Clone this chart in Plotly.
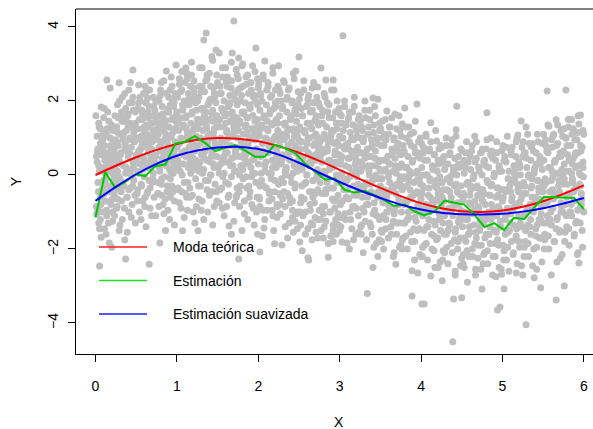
import plotly.graph_objects as go

# ---- data ----
# outer / individually readable points
scatter_points = [
(0.01,-0.85),(0.02,0.35),(0.02,1.05),(0.03,-0.2),(0.03,0.7),(0.04,-1.3),(0.04,1.4),(0.05,-2.46),(0.05,0.1),(0.06,-0.6),(0.06,1.25),(0.07,1.84),(0.07,-1.68),(0.08,0.55),(0.08,-1.0),(0.09,0.95),(0.09,-0.35),(0.10,1.55),(0.10,0.2),(0.11,-1.45),(0.11,0.8),(0.12,-0.7),(0.12,0.45),(0.13,1.15),(0.13,-0.1),(0.14,2.57),(0.14,-1.1),(0.15,0.6),(0.15,1.7),(0.16,-0.45),(0.17,-1.84),(0.17,0.25),(0.18,2.35),(0.18,1.0),(0.19,-0.8),(0.19,0.75),(0.20,-1.95),(0.20,1.35),(0.21,0.05),(0.21,-1.25),(0.22,0.9),(0.23,0.35),(0.23,-0.55),(0.24,1.6),(0.24,-0.2),
(0.25,0.5),(0.26,-0.9),(0.26,1.3),(0.27,0.1),(0.27,1.9),(0.28,-0.4),(0.28,0.8),(0.29,2.49),(0.29,-1.5),(0.30,1.1),(0.30,-0.1),(0.31,0.6),(0.31,1.6),(0.32,-0.7),(0.32,0.3),(0.33,2.1),(0.33,-1.2),(0.34,0.95),(0.34,1.45),(0.35,-0.3),(0.36,-1.76),(0.36,0.7),(0.37,-2.27),(0.37,1.8),(0.38,0.2),(0.38,1.2),(0.39,-0.6),(0.40,0.5),(0.40,1.65),(0.41,-1.0),(0.41,2.3),(0.42,0.05),(0.42,1.0),(0.43,-0.35),(0.43,1.4),(0.44,0.75),(0.45,-0.8),(0.45,1.95),(0.46,2.84),(0.46,0.35),(0.47,1.15),(0.47,-0.15),(0.48,0.9),(0.49,-1.3),(0.49,1.7),(0.50,0.55),
(0.51,-0.5),(0.51,1.25),(0.52,0.1),(0.52,1.8),(0.53,2.43),(0.53,0.65),(0.54,-1.0),(0.54,1.5),(0.55,0.3),(0.55,2.0),(0.56,-0.25),(0.56,1.05),(0.57,0.8),(0.58,-0.7),(0.58,1.65),(0.59,0.45),(0.59,2.2),(0.60,1.3),(0.60,-0.05),(0.61,0.9),(0.62,-1.4),(0.62,1.95),(0.63,0.2),(0.63,1.1),(0.64,2.08),(0.64,-0.45),(0.65,0.6),(0.65,1.55),(0.66,-2.41),(0.66,1.85),(0.67,0.35),(0.67,-0.9),(0.68,1.0),(0.68,2.55),(0.69,0.7),(0.70,-0.2),(0.70,1.4),(0.71,0.05),(0.71,2.1),(0.72,0.95),(0.72,-0.6),(0.73,1.75),(0.74,-1.1),(0.74,0.5),(0.75,1.2),
(0.76,0.3),(0.76,2.0),(0.77,-0.5),(0.77,1.1),(0.78,0.75),(0.78,1.6),(0.79,-1.84),(0.79,0.1),(0.80,2.3),(0.80,1.35),(0.81,-0.25),(0.81,0.9),(0.82,1.85),(0.82,0.45),(0.83,-0.8),(0.83,1.2),(0.84,2.55),(0.84,0.6),(0.85,1.5),(0.85,-0.05),(0.86,1.0),(0.87,2.81),(0.87,0.25),(0.88,1.7),(0.88,-0.45),(0.89,0.8),(0.90,2.1),(0.90,1.3),(0.91,-1.2),(0.91,0.5),(0.92,1.9),(0.93,0.05),(0.93,1.05),(0.94,2.4),(0.94,-0.3),(0.95,0.7),(0.95,1.55),(0.96,0.35),(0.97,1.25),(0.97,-0.7),(0.98,2.2),(0.98,0.9),(0.99,2.97),(0.99,0.15),(1.00,1.7),
(1.01,0.4),(1.01,2.1),(1.02,-0.4),(1.02,1.2),(1.03,0.85),(1.03,2.6),(1.04,0.1),(1.04,1.55),(1.05,-0.9),(1.05,1.0),(1.06,2.3),(1.06,0.6),(1.07,-1.51),(1.07,1.75),(1.08,0.3),(1.08,1.35),(1.09,-0.2),(1.09,2.0),(1.10,0.95),(1.10,2.5),(1.11,2.89),(1.11,0.5),(1.12,1.6),(1.12,-0.6),(1.13,1.15),(1.14,0.2),(1.14,2.2),(1.15,0.75),(1.15,1.9),(1.16,-0.35),(1.17,1.4),(1.17,0.05),(1.18,2.7),(1.18,0.9),(1.19,1.7),(1.20,-1.0),(1.20,0.45),(1.21,1.25),(1.21,2.35),(1.22,0.65),(1.23,-0.1),(1.23,1.95),(1.24,1.05),(1.24,0.3),(1.25,1.5),
(1.26,-1.51),(1.26,0.8),(1.27,2.1),(1.27,0.25),(1.28,1.4),(1.28,2.9),(1.29,-0.3),(1.29,1.0),(1.30,1.8),(1.30,0.55),(1.31,2.4),(1.31,-0.7),(1.32,1.2),(1.33,3.65),(1.33,0.15),(1.34,1.6),(1.34,2.25),(1.35,0.7),(1.35,-0.15),(1.36,3.84),(1.36,1.35),(1.37,2.6),(1.37,0.4),(1.38,1.9),(1.38,-1.0),(1.39,0.95),(1.40,2.75),(1.40,1.5),(1.41,0.0),(1.41,2.05),(1.42,1.1),(1.43,-0.45),(1.43,0.6),(1.44,1.75),(1.44,3.1),(1.45,0.3),(1.45,2.35),(1.46,1.25),(1.47,-0.25),(1.47,0.85),(1.48,3.38),(1.48,1.95),(1.49,0.5),(1.49,1.55),(1.50,2.5),
(1.51,0.2),(1.51,1.45),(1.52,3.3),(1.52,0.75),(1.53,2.2),(1.53,-0.4),(1.54,1.0),(1.55,1.8),(1.55,0.45),(1.56,2.65),(1.56,-0.9),(1.57,1.3),(1.58,0.05),(1.58,2.0),(1.59,0.9),(1.59,1.6),(1.60,2.9),(1.60,-0.2),(1.61,1.15),(1.62,0.6),(1.62,2.4),(1.63,1.85),(1.63,-0.6),(1.64,-1.38),(1.64,0.35),(1.65,1.45),(1.65,2.15),(1.66,0.8),(1.67,-0.05),(1.67,2.55),(1.68,1.05),(1.68,1.7),(1.69,0.25),(1.70,4.16),(1.70,1.3),(1.71,-0.75),(1.71,2.05),(1.72,0.65),(1.72,1.55),(1.73,2.85),(1.73,0.1),(1.74,1.9),(1.74,-0.35),(1.75,1.0),(1.75,2.3),
(1.76,-2.27),(1.76,3.16),(1.77,0.5),(1.77,1.4),(1.78,2.0),(1.78,-0.3),(1.79,0.9),(1.80,2.95),(1.80,1.7),(1.81,0.15),(1.81,2.4),(1.82,1.1),(1.83,-0.7),(1.83,0.6),(1.84,1.95),(1.84,1.3),(1.85,-0.05),(1.85,2.65),(1.86,0.8),(1.87,1.55),(1.87,-1.2),(1.88,0.35),(1.88,2.2),(1.89,1.0),(1.90,-0.45),(1.90,1.8),(1.91,0.65),(1.91,2.5),(1.92,1.25),(1.93,0.05),(1.93,1.6),(1.94,-0.9),(1.94,2.1),(1.95,0.45),(1.95,0.95),(1.96,1.45),(1.96,2.8),(1.97,3.43),(1.97,-0.2),(1.98,1.15),(1.98,0.7),(1.99,1.9),(1.99,-1.6),(2.00,0.3),(2.00,2.35),
(2.01,1.1),(2.01,-0.6),(2.02,-2.08),(2.02,1.75),(2.03,0.5),(2.03,2.2),(2.04,-0.15),(2.04,1.35),(2.05,0.85),(2.06,2.6),(2.06,-0.95),(2.07,-1.43),(2.07,1.55),(2.08,3.08),(2.08,0.25),(2.09,1.0),(2.10,1.9),(2.10,-0.35),(2.11,0.6),(2.12,2.4),(2.12,1.2),(2.13,-0.7),(2.13,0.05),(2.14,1.65),(2.15,0.9),(2.15,2.1),(2.16,-0.1),(2.17,1.35),(2.17,0.4),(2.18,2.75),(2.18,-1.1),(2.19,0.75),(2.19,1.8),(2.20,-0.45),(2.21,1.05),(2.21,2.3),(2.22,0.2),(2.22,1.5),(2.23,-0.8),(2.23,0.65),(2.24,2.0),(2.24,1.2),(2.25,2.95),(2.25,-0.25),
(2.26,0.8),(2.26,1.6),(2.27,-0.5),(2.27,2.2),(2.28,0.3),(2.29,-1.89),(2.29,1.1),(2.30,0.55),(2.30,1.85),(2.31,-0.2),(2.32,2.5),(2.32,0.95),(2.33,-0.85),(2.33,1.4),(2.34,0.15),(2.35,1.7),(2.35,2.05),(2.36,-0.5),(2.37,0.65),(2.37,1.25),(2.38,-1.3),(2.38,2.35),(2.39,0.4),(2.40,1.55),(2.40,-0.05),(2.41,0.9),(2.42,2.0),(2.42,-0.7),(2.43,1.2),(2.44,0.25),(2.44,2.6),(2.45,1.75),(2.45,-0.35),(2.46,2.81),(2.46,0.75),(2.47,1.45),(2.47,-1.05),(2.48,0.1),(2.48,1.05),(2.49,1.9),(2.50,3.19),(2.50,0.5),(2.20,-1.86),(2.43,-1.55),
(2.51,-1.81),(2.51,1.3),(2.52,0.2),(2.52,2.2),(2.53,-0.6),(2.53,0.9),(2.54,-2.05),(2.54,1.6),(2.55,0.45),(2.56,2.55),(2.56,-0.25),(2.57,1.15),(2.58,-1.0),(2.58,0.7),(2.59,1.85),(2.60,0.0),(2.60,1.4),(2.61,-2.24),(2.61,2.05),(2.62,0.55),(2.63,-0.45),(2.63,1.0),(2.64,1.7),(2.65,-1.3),(2.65,0.3),(2.66,2.35),(2.66,1.25),(2.67,-0.15),(2.68,0.8),(2.68,1.95),(2.69,-0.75),(2.70,0.45),(2.70,1.5),(2.71,-1.55),(2.71,1.1),(2.72,0.1),(2.72,2.1),(2.73,2.38),(2.73,-0.4),(2.74,0.65),(2.74,1.35),(2.75,-0.95),(2.62,-2.3),(2.66,-1.75),
(2.76,0.9),(2.76,-0.2),(2.77,2.89),(2.77,1.4),(2.78,0.35),(2.79,-0.85),(2.79,1.75),(2.80,0.6),(2.81,-1.4),(2.81,1.1),(2.82,2.1),(2.82,0.05),(2.83,2.57),(2.83,-0.5),(2.84,1.3),(2.85,0.75),(2.85,1.95),(2.86,-2.22),(2.86,-0.1),(2.87,1.55),(2.88,0.4),(2.88,-1.0),(2.89,1.0),(2.90,2.3),(2.90,-0.35),(2.91,0.2),(2.92,2.57),(2.92,-1.8),(2.93,1.2),(2.93,-0.7),(2.94,0.55),(2.95,1.7),(2.95,-1.2),(2.96,0.0),(2.97,0.9),(2.97,2.0),(2.98,-0.55),(2.98,1.4),(2.99,0.3),(3.00,-1.5),(3.00,1.05),(2.80,-1.7),(2.96,-1.6),
(3.01,0.4),(3.01,-0.8),(3.02,1.6),(3.03,-1.81),(3.03,0.05),(3.04,3.76),(3.04,1.0),(3.05,-0.4),(3.06,0.7),(3.06,1.85),(3.07,-1.2),(3.07,0.25),(3.08,1.35),(3.09,-1.84),(3.09,-0.15),(3.10,0.85),(3.11,-0.65),(3.11,1.55),(3.12,0.45),(3.13,-1.0),(3.13,1.15),(3.14,0.0),(3.15,-1.45),(3.15,0.6),(3.16,1.7),(3.17,-0.3),(3.17,0.95),(3.18,1.86),(3.18,-0.85),(3.19,0.3),(3.20,1.3),(3.20,-1.6),(3.21,-0.05),(3.22,0.75),(3.22,-0.55),(3.23,1.5),(3.23,-1.1),(3.24,0.15),(3.25,1.0),(3.25,-0.3),(3.12,-2.0),
(3.26,0.6),(3.26,-1.4),(3.27,1.3),(3.28,-0.6),(3.28,0.2),(3.29,-2.1),(3.29,0.9),(3.30,-1.0),(3.31,2.0),(3.31,0.45),(3.32,-0.2),(3.32,1.55),(3.33,-1.75),(3.34,-3.2),(3.34,0.7),(3.35,-0.8),(3.35,1.1),(3.36,0.1),(3.37,-1.3),(3.37,1.75),(3.38,0.5),(3.39,-0.45),(3.39,0.95),(3.40,-1.6),(3.40,0.25),(3.41,2.08),(3.41,-2.5),(3.42,1.35),(3.42,-0.1),(3.43,-0.95),(3.44,0.65),(3.44,1.6),(3.45,-1.85),(3.45,0.0),(3.46,-0.55),(3.46,1.0),(3.47,2.05),(3.47,-2.2),(3.48,0.35),(3.49,-1.2),(3.49,1.2),(3.50,-0.3),
(3.51,0.8),(3.51,-1.5),(3.52,-0.1),(3.52,1.45),(3.53,-0.75),(3.54,0.4),(3.54,-2.0),(3.55,1.1),(3.55,-0.4),(3.56,0.15),(3.57,-1.2),(3.57,0.95),(3.58,1.73),(3.58,-0.6),(3.59,0.5),(3.60,-1.7),(3.60,-0.05),(3.61,1.3),(3.62,-0.9),(3.62,0.3),(3.63,-1.4),(3.64,0.7),(3.64,1.55),(3.65,-0.3),(3.66,-2.2),(3.66,0.1),(3.67,1.0),(3.67,-1.05),(3.68,0.45),(3.69,-2.41),(3.69,-0.5),(3.70,1.25),(3.70,-1.6),(3.71,0.2),(3.72,-0.8),(3.72,0.85),(3.73,-1.3),(3.73,1.6),(3.74,-0.15),(3.75,0.55),(3.75,-1.9),
(3.76,0.3),(3.76,-1.0),(3.77,1.38),(3.77,-0.4),(3.78,-1.7),(3.79,0.65),(3.79,-0.05),(3.80,1.81),(3.80,-1.3),(3.81,0.2),(3.82,-0.75),(3.82,1.0),(3.83,-2.0),(3.83,-0.3),(3.84,0.5),(3.85,-1.15),(3.85,1.3),(3.86,0.0),(3.87,-0.6),(3.87,-1.55),(3.88,0.8),(3.89,-2.59),(3.89,-3.27),(3.89,0.35),(3.90,-0.95),(3.91,1.15),(3.91,-0.2),(3.92,-1.8),(3.93,0.6),(3.93,-0.5),(3.94,-1.25),(3.95,1.92),(3.95,0.1),(3.96,-2.65),(3.96,-0.8),(3.97,0.9),(3.98,-1.45),(3.98,-0.1),(3.99,0.45),(4.00,-2.2),(4.00,-0.65),
(4.01,-3.49),(4.01,0.2),(4.02,-1.1),(4.03,0.75),(4.03,-0.35),(4.04,-3.49),(4.04,-1.9),(4.05,0.0),(4.06,-0.8),(4.06,1.05),(4.07,-1.4),(4.08,0.4),(4.08,-2.3),(4.09,-0.55),(4.10,-1.0),(4.10,0.65),(4.11,-0.15),(4.12,1.41),(4.12,-2.73),(4.13,-1.6),(4.14,0.25),(4.14,-0.7),(4.15,-1.25),(4.16,0.55),(4.16,-2.05),(4.17,-0.3),(4.18,-0.95),(4.19,0.92),(4.19,-1.75),(4.20,0.1),(4.21,-0.5),(4.21,-2.5),(4.22,0.7),(4.23,-1.2),(4.23,-0.05),(4.24,-1.5),(4.25,0.35),(4.25,-0.85),
(4.26,-2.86),(4.26,-0.2),(4.27,0.45),(4.27,-1.3),(4.28,-0.7),(4.29,-2.1),(4.29,0.15),(4.30,-1.0),(4.31,0.8),(4.31,-1.6),(4.32,-0.4),(4.33,0.3),(4.33,-2.4),(4.34,-0.9),(4.35,-1.35),(4.35,0.55),(4.36,-0.05),(4.37,-1.85),(4.37,-0.6),(4.38,0.95),(4.39,-4.51),(4.39,-1.1),(4.40,-3.35),(4.40,0.2),(4.41,-0.3),(4.42,-1.55),(4.42,-2.7),(4.43,1.22),(4.43,-0.8),(4.44,1.86),(4.44,0.0),(4.45,-2.0),(4.46,-1.25),(4.46,0.5),(4.47,-0.5),(4.48,-1.7),(4.48,0.25),(4.49,-0.95),(4.50,-3.32),(4.50,-2.25),
(4.51,0.3),(4.51,-1.4),(4.52,-0.6),(4.53,-2.5),(4.53,0.05),(4.54,-1.0),(4.55,0.6),(4.55,-1.8),(4.56,-0.25),(4.57,-2.9),(4.57,-1.2),(4.58,0.35),(4.59,-0.75),(4.59,-2.2),(4.60,-1.55),(4.61,0.15),(4.61,-0.4),(4.62,-1.05),(4.63,0.8),(4.63,-2.0),(4.64,-0.1),(4.65,-1.35),(4.66,1.05),(4.66,-0.7),(4.67,-2.55),(4.68,0.45),(4.68,-1.7),(4.69,-0.3),(4.70,-0.95),(4.70,-2.25),(4.71,0.2),(4.72,-1.5),(4.72,-0.55),(4.73,0.6),(4.74,-1.15),(4.74,-1.9),(4.75,-3.08),(4.75,0.0),
(4.76,-0.4),(4.77,-1.3),(4.77,0.35),(4.78,-2.1),(4.79,-0.8),(4.80,0.7),(4.80,-1.6),(4.81,1.68),(4.81,-0.15),(4.82,-2.4),(4.83,-1.0),(4.83,0.2),(4.84,-0.55),(4.85,-1.85),(4.86,1.0),(4.86,-1.2),(4.87,-0.25),(4.88,-2.7),(4.88,0.45),(4.89,-0.9),(4.90,-1.5),(4.90,0.05),(4.91,-2.2),(4.92,-0.6),(4.93,0.6),(4.93,-1.1),(4.94,-3.65),(4.94,-1.75),(4.95,-0.35),(4.96,0.25),(4.96,-2.5),(4.97,-3.57),(4.97,-0.95),(4.98,-1.4),(4.99,-2.68),(4.99,0.1),(5.00,-0.7),
(5.01,-1.9),(5.02,-3.08),(5.02,0.4),(5.03,-1.2),(5.04,-0.45),(5.05,-2.3),(5.05,0.75),(5.06,-0.9),(5.07,-1.55),(5.08,0.1),(5.08,-2.6),(5.09,-0.3),(5.10,-1.05),(5.11,0.55),(5.11,-1.8),(5.12,-0.6),(5.13,-2.15),(5.14,0.25),(5.14,-1.35),(5.15,-0.1),(5.16,-0.8),(5.17,0.9),(5.17,-1.65),(5.18,-2.4),(5.19,-0.4),(5.20,0.35),(5.20,-1.1),(5.21,-1.95),(5.22,0.0),(5.23,1.46),(5.23,-0.65),(5.24,-1.4),(5.25,0.5),(5.25,-2.7),
(5.26,-0.2),(5.26,-1.1),(5.27,0.6),(5.28,-1.8),(5.29,1.3),(5.29,-4.05),(5.29,-0.5),(5.30,0.2),(5.31,-1.35),(5.32,-2.2),(5.32,-0.05),(5.33,0.85),(5.34,-0.8),(5.35,-1.6),(5.35,0.4),(5.36,-0.3),(5.37,-2.45),(5.38,-1.0),(5.38,0.65),(5.39,-2.78),(5.39,0.05),(5.40,-0.6),(5.41,-1.45),(5.42,0.3),(5.42,-1.95),(5.43,-0.15),(5.44,0.9),(5.45,-1.2),(5.45,-0.45),(5.46,0.5),(5.47,-3.05),(5.47,-1.7),(5.48,-0.85),(5.49,0.15),(5.50,-1.3),(5.19,1.08),
(5.51,0.4),(5.51,-0.7),(5.52,-1.6),(5.53,0.95),(5.54,-0.2),(5.55,2.27),(5.55,-1.1),(5.56,0.6),(5.57,1.32),(5.57,-2.0),(5.58,-0.45),(5.59,0.2),(5.60,-2.7),(5.60,-1.35),(5.61,0.75),(5.62,-0.05),(5.62,-0.9),(5.63,1.1),(5.64,-1.8),(5.64,0.35),(5.65,-0.55),(5.66,1.49),(5.66,-3.38),(5.67,-1.2),(5.67,0.05),(5.68,0.85),(5.69,-0.3),(5.70,-1.55),(5.70,0.5),(5.71,-2.25),(5.72,-0.75),(5.72,1.2),(5.73,0.15),(5.74,-1.0),(5.75,0.65),(5.75,-0.2),
(5.76,-3.0),(5.76,0.3),(5.77,-0.8),(5.78,2.3),(5.78,1.0),(5.79,-1.4),(5.80,0.55),(5.80,-0.25),(5.81,1.3),(5.82,-1.9),(5.82,0.1),(5.83,-0.55),(5.84,0.8),(5.85,-1.1),(5.85,1.5),(5.86,-0.1),(5.87,0.45),(5.88,-1.65),(5.88,-0.7),(5.89,0.95),(5.90,0.2),(5.90,-1.3),(5.91,-0.35),(5.92,1.15),(5.93,-2.1),(5.93,0.6),(5.94,1.38),(5.94,-2.38),(5.95,-0.9),(5.96,1.62),(5.96,0.0),(5.97,-0.5),(5.98,0.75),(5.98,-1.5),(5.99,0.35),(6.00,-1.0),(6.00,1.1),
]

# points of the dense core of the cloud (estimated)
scatter_points_core = [
(0.015,-1.05),(0.135,-0.95),(0.065,-0.8),(0.205,-0.65),(0.035,-0.45),(0.175,-0.3),(0.095,-0.15),(0.225,0.0),(0.055,0.15),(0.155,0.3),(0.115,0.4),(0.245,0.55),(0.025,0.65),(0.185,0.8),(0.075,0.9),(0.145,1.05),(0.215,1.2),(0.045,1.3),(0.165,1.45),(0.105,-0.5),(0.235,-1.1),(0.085,0.7),(0.195,0.1),(0.005,1.6),(0.125,-0.25),(0.24,0.95),(0.06,-1.2),(0.17,1.25),(0.11,1.8),(0.21,-0.4),
(0.265,-0.85),(0.385,-0.6),(0.315,-0.45),(0.455,-0.3),(0.285,-0.05),(0.425,0.05),(0.345,0.25),(0.475,0.4),(0.305,0.55),(0.405,0.7),(0.365,0.85),(0.495,1.0),(0.275,1.15),(0.435,1.3),(0.325,1.45),(0.395,1.6),(0.465,1.75),(0.295,2.0),(0.415,1.95),(0.355,-0.9),(0.485,-0.55),(0.335,1.05),(0.445,0.15),(0.255,0.35),(0.375,1.5),(0.48,1.25),(0.31,-0.25),(0.42,0.6),(0.36,2.2),(0.46,-0.1),
(0.515,-0.7),(0.635,-0.5),(0.565,-0.3),(0.705,-0.1),(0.535,0.05),(0.675,0.2),(0.595,0.35),(0.725,0.55),(0.555,0.7),(0.655,0.85),(0.615,1.0),(0.745,1.1),(0.525,1.25),(0.685,1.4),(0.575,1.5),(0.645,1.7),(0.715,1.85),(0.545,2.1),(0.665,2.3),(0.605,-0.85),(0.735,0.3),(0.585,1.6),(0.695,0.9),(0.505,0.45),(0.625,1.35),(0.74,2.0),(0.56,0.95),(0.67,-0.35),(0.61,2.4),(0.71,1.2),
(0.765,-0.5),(0.885,-0.3),(0.815,-0.1),(0.955,0.05),(0.785,0.2),(0.925,0.4),(0.845,0.55),(0.975,0.7),(0.805,0.85),(0.905,1.0),(0.865,1.1),(0.995,1.25),(0.775,1.4),(0.935,1.5),(0.825,1.65),(0.895,1.8),(0.965,1.95),(0.795,2.15),(0.915,2.3),(0.855,-0.65),(0.985,0.5),(0.835,1.2),(0.945,2.05),(0.755,0.95),(0.875,0.65),(0.99,1.6),(0.81,2.5),(0.92,-0.1),(0.86,1.45),(0.96,0.25),
(1.015,-0.35),(1.135,-0.2),(1.065,0.0),(1.205,0.15),(1.035,0.3),(1.175,0.5),(1.095,0.65),(1.225,0.8),(1.055,0.95),(1.155,1.1),(1.115,1.25),(1.245,1.35),(1.025,1.5),(1.185,1.65),(1.075,1.8),(1.145,1.95),(1.215,2.1),(1.045,2.25),(1.165,2.4),(1.105,-0.5),(1.235,0.4),(1.085,1.3),(1.195,2.0),(1.005,0.75),(1.125,2.6),(1.24,1.0),(1.06,2.8),(1.17,0.2),(1.11,1.55),(1.21,2.55),
(1.265,-0.3),(1.385,-0.15),(1.315,0.05),(1.455,0.2),(1.285,0.35),(1.425,0.5),(1.345,0.65),(1.475,0.8),(1.305,0.95),(1.405,1.1),(1.365,1.25),(1.495,1.35),(1.275,1.5),(1.435,1.65),(1.325,1.8),(1.395,1.95),(1.465,2.1),(1.295,2.25),(1.415,2.4),(1.355,2.55),(1.485,-0.45),(1.335,0.45),(1.445,1.45),(1.255,2.0),(1.375,0.85),(1.49,2.7),(1.31,2.9),(1.42,0.0),(1.36,1.7),(1.46,1.0),
(1.515,-0.4),(1.635,-0.25),(1.565,-0.05),(1.705,0.1),(1.535,0.3),(1.675,0.45),(1.595,0.6),(1.725,0.75),(1.555,0.9),(1.655,1.05),(1.615,1.2),(1.745,1.35),(1.525,1.5),(1.685,1.6),(1.575,1.75),(1.645,1.9),(1.715,2.05),(1.545,2.2),(1.665,2.35),(1.605,2.5),(1.735,-0.55),(1.585,0.35),(1.695,1.4),(1.505,2.45),(1.625,0.8),(1.74,2.7),(1.56,2.9),(1.67,3.05),(1.61,1.65),(1.71,0.5),
(1.765,-0.45),(1.885,-0.3),(1.815,-0.1),(1.955,0.05),(1.785,0.25),(1.925,0.4),(1.845,0.55),(1.975,0.7),(1.805,0.85),(1.905,1.0),(1.865,1.15),(1.995,1.3),(1.775,1.45),(1.935,1.6),(1.825,1.7),(1.895,1.85),(1.965,2.0),(1.795,2.15),(1.915,2.3),(1.855,2.45),(1.985,-0.6),(1.835,0.3),(1.945,1.25),(1.755,2.6),(1.875,0.75),(1.99,2.6),(1.81,3.0),(1.92,-0.05),(1.86,1.55),(1.96,0.95),
(2.015,-0.65),(2.135,-0.5),(2.065,-0.3),(2.205,-0.15),(2.035,0.05),(2.175,0.2),(2.095,0.35),(2.225,0.5),(2.055,0.65),(2.155,0.8),(2.115,0.95),(2.245,1.1),(2.025,1.25),(2.185,1.4),(2.075,1.55),(2.145,1.7),(2.215,1.85),(2.045,2.0),(2.165,2.15),(2.105,2.3),(2.235,-0.85),(2.085,0.1),(2.195,1.0),(2.005,2.45),(2.125,0.6),(2.24,2.4),(2.06,2.7),(2.17,-0.95),(2.11,1.45),(2.21,0.3),
(2.265,-0.8),(2.385,-0.6),(2.315,-0.45),(2.455,-0.25),(2.285,-0.1),(2.425,0.05),(2.345,0.2),(2.475,0.35),(2.305,0.5),(2.405,0.65),(2.365,0.8),(2.495,0.95),(2.275,1.1),(2.435,1.25),(2.325,1.35),(2.395,1.5),(2.465,1.65),(2.295,1.8),(2.415,1.95),(2.355,2.1),(2.485,-1.0),(2.335,0.0),(2.445,1.05),(2.255,2.3),(2.375,0.45),(2.49,2.25),(2.31,2.55),(2.42,-1.15),(2.36,1.2),(2.46,0.6),
(2.515,-1.0),(2.635,-0.8),(2.565,-0.65),(2.705,-0.5),(2.535,-0.3),(2.675,-0.15),(2.595,0.0),(2.725,0.15),(2.555,0.3),(2.655,0.45),(2.615,0.6),(2.745,0.75),(2.525,0.9),(2.685,1.05),(2.575,1.15),(2.645,1.3),(2.715,1.45),(2.545,1.6),(2.665,1.75),(2.605,1.9),(2.735,-1.2),(2.585,-0.2),(2.695,0.85),(2.505,2.05),(2.625,0.25),(2.74,1.95),(2.56,2.3),(2.67,-1.35),(2.61,1.0),(2.71,0.4),
(2.765,-1.2),(2.885,-1.0),(2.815,-0.85),(2.955,-0.7),(2.785,-0.5),(2.925,-0.35),(2.845,-0.2),(2.975,-0.05),(2.805,0.1),(2.905,0.25),(2.865,0.4),(2.995,0.55),(2.775,0.7),(2.935,0.85),(2.825,1.0),(2.895,1.1),(2.965,1.25),(2.795,1.4),(2.915,1.55),(2.855,1.7),(2.985,-1.35),(2.835,-0.4),(2.945,0.65),(2.755,1.85),(2.875,0.15),(2.99,1.8),(2.81,2.2),(2.92,-1.5),(2.86,0.9),(2.96,0.3),
(3.015,-1.4),(3.135,-1.2),(3.065,-1.05),(3.205,-0.9),(3.035,-0.7),(3.175,-0.55),(3.095,-0.4),(3.225,-0.25),(3.055,-0.1),(3.155,0.05),(3.115,0.2),(3.245,0.35),(3.025,0.5),(3.185,0.65),(3.075,0.8),(3.145,0.95),(3.215,1.05),(3.045,1.2),(3.165,1.35),(3.105,1.5),(3.235,-1.55),(3.085,-0.6),(3.195,0.45),(3.005,1.65),(3.125,-0.05),(3.24,1.6),(3.06,2.0),(3.17,-1.75),(3.11,0.7),(3.21,0.1),
(3.265,-1.6),(3.385,-1.4),(3.315,-1.25),(3.455,-1.1),(3.285,-0.9),(3.425,-0.75),(3.345,-0.6),(3.475,-0.45),(3.305,-0.3),(3.405,-0.15),(3.365,0.0),(3.495,0.15),(3.275,0.3),(3.435,0.45),(3.325,0.6),(3.395,0.75),(3.465,0.85),(3.295,1.0),(3.415,1.15),(3.355,1.3),(3.485,-1.75),(3.335,-0.8),(3.445,0.25),(3.255,1.45),(3.375,-0.25),(3.49,1.4),(3.31,1.75),(3.42,-1.95),(3.36,0.5),(3.46,-0.1),
(3.515,-1.8),(3.635,-1.6),(3.565,-1.45),(3.705,-1.3),(3.535,-1.1),(3.675,-0.95),(3.595,-0.8),(3.725,-0.65),(3.555,-0.5),(3.655,-0.35),(3.615,-0.2),(3.745,-0.05),(3.525,0.1),(3.685,0.25),(3.575,0.4),(3.645,0.55),(3.715,0.65),(3.545,0.8),(3.665,0.95),(3.605,1.1),(3.735,-1.95),(3.585,-1.0),(3.695,0.05),(3.505,1.25),(3.625,-0.45),(3.74,1.2),(3.56,1.5),(3.67,-2.1),(3.61,0.3),(3.71,-0.3),
(3.765,-2.0),(3.885,-1.8),(3.815,-1.65),(3.955,-1.5),(3.785,-1.3),(3.925,-1.15),(3.845,-1.0),(3.975,-0.85),(3.805,-0.7),(3.905,-0.55),(3.865,-0.4),(3.995,-0.25),(3.775,-0.1),(3.935,0.05),(3.825,0.2),(3.895,0.35),(3.965,0.5),(3.795,0.6),(3.915,0.75),(3.855,0.9),(3.985,-2.15),(3.835,-1.2),(3.945,-0.15),(3.755,1.05),(3.875,-0.65),(3.99,1.0),(3.81,1.3),(3.92,-2.3),(3.86,0.1),(3.96,-0.5),
(4.015,-2.2),(4.135,-2.0),(4.065,-1.85),(4.205,-1.7),(4.035,-1.5),(4.175,-1.35),(4.095,-1.2),(4.225,-1.05),(4.055,-0.9),(4.155,-0.75),(4.115,-0.6),(4.245,-0.45),(4.025,-0.3),(4.185,-0.15),(4.075,0.0),(4.145,0.15),(4.215,0.3),(4.045,0.4),(4.165,0.55),(4.105,0.7),(4.235,-2.35),(4.085,-1.4),(4.195,-0.35),(4.005,0.85),(4.125,-0.85),(4.24,0.8),(4.06,1.1),(4.17,-2.5),(4.11,-0.1),(4.21,-0.7),
(4.265,-2.3),(4.385,-2.1),(4.315,-1.95),(4.455,-1.8),(4.285,-1.6),(4.425,-1.45),(4.345,-1.3),(4.475,-1.15),(4.305,-1.0),(4.405,-0.85),(4.365,-0.7),(4.495,-0.55),(4.275,-0.4),(4.435,-0.25),(4.325,-0.1),(4.395,0.05),(4.465,0.2),(4.295,0.3),(4.415,0.45),(4.355,0.6),(4.485,-2.45),(4.335,-1.5),(4.445,-0.45),(4.255,0.75),(4.375,-0.95),(4.49,0.7),(4.31,1.0),(4.42,-2.6),(4.36,-0.2),(4.46,-0.8),
(4.515,-2.4),(4.635,-2.2),(4.565,-2.05),(4.705,-1.9),(4.535,-1.7),(4.675,-1.55),(4.595,-1.4),(4.725,-1.25),(4.555,-1.1),(4.655,-0.95),(4.615,-0.8),(4.745,-0.65),(4.525,-0.5),(4.685,-0.35),(4.575,-0.2),(4.645,-0.05),(4.715,0.1),(4.545,0.2),(4.665,0.35),(4.605,0.5),(4.735,-2.55),(4.585,-1.6),(4.695,-0.55),(4.505,0.65),(4.625,-1.05),(4.74,0.6),(4.56,0.9),(4.67,-2.7),(4.61,-0.3),(4.71,-0.9),
(4.765,-2.4),(4.885,-2.2),(4.815,-2.05),(4.955,-1.9),(4.785,-1.7),(4.925,-1.55),(4.845,-1.4),(4.975,-1.25),(4.805,-1.1),(4.905,-0.95),(4.865,-0.8),(4.995,-0.65),(4.775,-0.5),(4.935,-0.35),(4.825,-0.2),(4.895,-0.05),(4.965,0.1),(4.795,0.25),(4.915,0.4),(4.855,0.55),(4.985,-2.55),(4.835,-1.6),(4.945,-0.55),(4.755,0.7),(4.875,-1.05),(4.99,0.65),(4.81,0.95),(4.92,-2.75),(4.86,-0.3),(4.96,-0.9),
(5.015,-2.3),(5.135,-2.1),(5.065,-1.95),(5.205,-1.8),(5.035,-1.6),(5.175,-1.45),(5.095,-1.3),(5.225,-1.15),(5.055,-1.0),(5.155,-0.85),(5.115,-0.7),(5.245,-0.55),(5.025,-0.4),(5.185,-0.25),(5.075,-0.1),(5.145,0.05),(5.215,0.2),(5.045,0.35),(5.165,0.5),(5.105,0.65),(5.235,-2.45),(5.085,-1.5),(5.195,-0.45),(5.005,0.8),(5.125,-0.95),(5.24,0.75),(5.06,1.05),(5.17,-2.65),(5.11,-0.2),(5.21,-0.8),
(5.265,-2.2),(5.385,-2.0),(5.315,-1.85),(5.455,-1.7),(5.285,-1.5),(5.425,-1.35),(5.345,-1.2),(5.475,-1.05),(5.305,-0.9),(5.405,-0.75),(5.365,-0.6),(5.495,-0.45),(5.275,-0.3),(5.435,-0.15),(5.325,0.0),(5.395,0.15),(5.465,0.3),(5.295,0.45),(5.415,0.6),(5.355,0.75),(5.485,-2.35),(5.335,-1.4),(5.445,-0.35),(5.255,0.9),(5.375,-0.85),(5.49,0.85),(5.31,1.1),(5.42,-2.55),(5.36,-0.1),(5.46,-0.7),
(5.515,-2.0),(5.635,-1.8),(5.565,-1.65),(5.705,-1.5),(5.535,-1.3),(5.675,-1.15),(5.595,-1.0),(5.725,-0.85),(5.555,-0.7),(5.655,-0.55),(5.615,-0.4),(5.745,-0.25),(5.525,-0.1),(5.685,0.05),(5.575,0.2),(5.645,0.35),(5.715,0.5),(5.545,0.65),(5.665,0.8),(5.605,0.95),(5.735,-2.15),(5.585,-1.2),(5.695,-0.15),(5.505,1.1),(5.625,-0.65),(5.74,1.05),(5.56,1.35),(5.67,-2.35),(5.61,0.1),(5.71,-0.5),
(5.765,-1.8),(5.885,-1.6),(5.815,-1.45),(5.955,-1.3),(5.785,-1.1),(5.925,-0.95),(5.845,-0.8),(5.975,-0.65),(5.805,-0.5),(5.905,-0.35),(5.865,-0.2),(5.995,-0.05),(5.775,0.1),(5.935,0.25),(5.825,0.4),(5.895,0.55),(5.965,0.65),(5.795,0.8),(5.915,0.95),(5.855,1.1),(5.985,-1.95),(5.835,-1.0),(5.945,0.05),(5.755,1.25),(5.875,-0.45),(5.99,1.2),(5.81,1.5),(5.92,-2.15),(5.86,0.3),(5.96,-0.3),
]

# extra points where the reference cloud is solid grey (estimated)
scatter_points_fill = [
(0.03,-0.95),(0.19,-0.7),(0.08,-0.55),(0.22,-0.15),(0.12,0.05),(0.04,0.25),(0.17,0.45),(0.10,0.6),(0.23,0.7),(0.06,0.85),(0.14,1.25),(0.20,0.55),(0.01,0.5),(0.16,-1.3),(0.09,1.1),(0.24,0.25),
(0.27,-0.65),(0.41,-0.4),(0.33,-0.2),(0.47,0.25),(0.29,0.4),(0.38,0.65),(0.44,0.95),(0.26,0.9),(0.35,1.15),(0.49,1.4),(0.32,1.7),(0.40,1.35),(0.46,2.1),(0.28,1.55),(0.37,0.05),(0.43,2.5),
(0.52,-0.4),(0.66,-0.15),(0.58,0.15),(0.72,0.35),(0.54,0.55),(0.63,0.75),(0.70,1.05),(0.51,1.0),(0.60,1.15),(0.74,1.45),(0.57,1.75),(0.65,1.3),(0.71,1.6),(0.53,1.95),(0.62,2.25),(0.68,0.45),
(0.77,-0.2),(0.91,0.15),(0.83,0.35),(0.97,0.55),(0.79,0.65),(0.88,0.9),(0.95,1.15),(0.76,1.25),(0.85,1.35),(0.99,1.45),(0.82,1.55),(0.90,1.7),(0.96,1.85),(0.78,2.0),(0.87,2.2),(0.93,2.65),
(1.02,0.15),(1.16,0.35),(1.08,0.55),(1.22,0.7),(1.04,0.9),(1.13,1.05),(1.20,1.2),(1.01,1.4),(1.10,1.55),(1.24,1.75),(1.07,1.9),(1.15,2.05),(1.21,2.25),(1.03,2.45),(1.12,2.75),(1.18,3.05),
(1.27,0.1),(1.41,0.35),(1.33,0.6),(1.47,0.7),(1.29,0.85),(1.38,1.05),(1.45,1.15),(1.26,1.25),(1.35,1.45),(1.49,1.6),(1.32,1.75),(1.40,2.0),(1.46,2.2),(1.28,2.4),(1.37,2.7),(1.43,3.2),
(1.52,0.05),(1.66,0.25),(1.58,0.5),(1.72,0.6),(1.54,0.85),(1.63,1.0),(1.70,1.15),(1.51,1.3),(1.60,1.4),(1.74,1.55),(1.57,1.7),(1.65,1.95),(1.71,2.2),(1.53,2.4),(1.62,2.65),(1.68,3.3),
(1.77,0.0),(1.91,0.2),(1.83,0.45),(1.97,0.55),(1.79,0.75),(1.88,0.9),(1.95,1.1),(1.76,1.2),(1.85,1.35),(1.99,1.5),(1.82,1.65),(1.90,1.9),(1.96,2.15),(1.78,2.35),(1.87,2.7),(1.93,2.95),
(2.02,-0.3),(2.16,0.05),(2.08,0.3),(2.22,0.4),(2.04,0.6),(2.13,0.8),(2.20,0.95),(2.01,1.05),(2.10,1.25),(2.24,1.4),(2.07,1.6),(2.15,1.75),(2.21,1.95),(2.03,2.15),(2.12,2.5),(2.18,2.9),
(2.27,-0.55),(2.41,-0.2),(2.33,0.1),(2.47,0.2),(2.29,0.4),(2.38,0.6),(2.45,0.8),(2.26,0.95),(2.35,1.05),(2.49,1.2),(2.32,1.4),(2.40,1.6),(2.46,1.8),(2.28,2.0),(2.37,2.3),(2.43,2.75),
(2.52,-0.75),(2.66,-0.45),(2.58,-0.2),(2.72,-0.05),(2.54,0.15),(2.63,0.35),(2.70,0.55),(2.51,0.7),(2.60,0.85),(2.74,1.0),(2.57,1.2),(2.65,1.4),(2.71,1.6),(2.53,1.8),(2.62,2.15),(2.68,2.5),
(2.77,-0.95),(2.91,-0.65),(2.83,-0.4),(2.97,-0.2),(2.79,0.0),(2.88,0.2),(2.95,0.35),(2.76,0.5),(2.85,0.65),(2.99,0.8),(2.82,1.0),(2.90,1.2),(2.96,1.4),(2.78,1.6),(2.87,1.9),(2.93,2.3),
(3.02,-1.15),(3.16,-0.85),(3.08,-0.6),(3.22,-0.4),(3.04,-0.2),(3.13,0.0),(3.20,0.15),(3.01,0.3),(3.10,0.45),(3.24,0.6),(3.07,0.8),(3.15,1.0),(3.21,1.2),(3.03,1.4),(3.12,1.7),(3.18,2.1),
(3.27,-1.35),(3.41,-1.05),(3.33,-0.8),(3.47,-0.6),(3.29,-0.4),(3.38,-0.2),(3.45,-0.05),(3.26,0.1),(3.35,0.25),(3.49,0.4),(3.32,0.6),(3.40,0.8),(3.46,1.0),(3.28,1.2),(3.37,1.5),(3.43,1.85),
(3.52,-1.55),(3.66,-1.25),(3.58,-1.0),(3.72,-0.8),(3.54,-0.6),(3.63,-0.4),(3.70,-0.25),(3.51,-0.1),(3.60,0.05),(3.74,0.2),(3.57,0.4),(3.65,0.6),(3.71,0.8),(3.53,1.0),(3.62,1.3),(3.68,1.65),
(3.77,-1.75),(3.91,-1.45),(3.83,-1.2),(3.97,-1.0),(3.79,-0.8),(3.88,-0.6),(3.95,-0.45),(3.76,-0.3),(3.85,-0.15),(3.99,0.0),(3.82,0.2),(3.90,0.4),(3.96,0.6),(3.78,0.8),(3.87,1.1),(3.93,1.45),
(4.02,-1.95),(4.16,-1.65),(4.08,-1.4),(4.22,-1.2),(4.04,-1.0),(4.13,-0.8),(4.20,-0.65),(4.01,-0.5),(4.10,-0.35),(4.24,-0.2),(4.07,0.0),(4.15,0.2),(4.21,0.4),(4.03,0.6),(4.12,0.9),(4.18,1.2),
(4.27,-2.05),(4.41,-1.75),(4.33,-1.5),(4.47,-1.3),(4.29,-1.1),(4.38,-0.9),(4.45,-0.75),(4.26,-0.6),(4.35,-0.45),(4.49,-0.3),(4.32,-0.1),(4.40,0.1),(4.46,0.3),(4.28,0.5),(4.37,0.8),(4.43,1.05),
(4.52,-2.15),(4.66,-1.85),(4.58,-1.6),(4.72,-1.4),(4.54,-1.2),(4.63,-1.0),(4.70,-0.85),(4.51,-0.7),(4.60,-0.55),(4.74,-0.4),(4.57,-0.2),(4.65,0.0),(4.71,0.2),(4.53,0.4),(4.62,0.65),(4.68,0.9),
(4.77,-2.15),(4.91,-1.85),(4.83,-1.6),(4.97,-1.4),(4.79,-1.2),(4.88,-1.0),(4.95,-0.85),(4.76,-0.7),(4.85,-0.55),(4.99,-0.4),(4.82,-0.2),(4.90,0.0),(4.96,0.2),(4.78,0.4),(4.87,0.65),(4.93,0.9),
(5.02,-2.05),(5.16,-1.75),(5.08,-1.5),(5.22,-1.3),(5.04,-1.1),(5.13,-0.9),(5.20,-0.75),(5.01,-0.6),(5.10,-0.45),(5.24,-0.3),(5.07,-0.1),(5.15,0.1),(5.21,0.3),(5.03,0.5),(5.12,0.75),(5.18,1.0),
(5.27,-1.95),(5.41,-1.65),(5.33,-1.4),(5.47,-1.2),(5.29,-1.0),(5.38,-0.8),(5.45,-0.65),(5.26,-0.5),(5.35,-0.35),(5.49,-0.2),(5.32,0.0),(5.40,0.2),(5.46,0.4),(5.28,0.6),(5.37,0.85),(5.43,1.1),
(5.52,-1.75),(5.66,-1.45),(5.58,-1.2),(5.72,-1.0),(5.54,-0.8),(5.63,-0.6),(5.70,-0.45),(5.51,-0.3),(5.60,-0.15),(5.74,0.0),(5.57,0.2),(5.65,0.4),(5.71,0.6),(5.53,0.8),(5.62,1.05),(5.68,1.35),
(5.77,-1.55),(5.91,-1.25),(5.83,-1.0),(5.97,-0.8),(5.79,-0.6),(5.88,-0.4),(5.95,-0.25),(5.76,-0.1),(5.85,0.05),(5.99,0.2),(5.82,0.4),(5.90,0.6),(5.96,0.8),(5.78,1.0),(5.87,1.25),(5.93,1.6),
]

# points below the modal curve in the first half (estimated)
scatter_points_low = [
(0.05,-1.45),(0.13,-1.6),(0.21,-1.0),(0.30,-1.35),(0.44,-1.15),(0.39,-1.55),(0.56,-1.2),(0.69,-1.1),(0.61,-0.6),
(0.78,-0.85),(0.84,-1.05),(0.92,-0.6),(0.97,-1.35),(0.81,-0.55),(0.89,-0.95),(0.95,-0.45),(0.86,-1.5),
(1.03,-0.75),(1.09,-1.15),(1.16,-0.6),(1.22,-1.3),(1.06,-0.45),(1.13,-0.95),(1.19,-0.55),(1.24,-0.85),
(1.27,-0.65),(1.33,-1.2),(1.40,-0.55),(1.46,-0.85),(1.30,-0.95),(1.37,-0.4),(1.44,-1.35),(1.49,-0.7),
(1.52,-0.75),(1.58,-1.1),(1.64,-0.55),(1.70,-1.25),(1.55,-0.35),(1.61,-0.85),(1.67,-1.6),(1.73,-0.6),
(1.77,-0.85),(1.83,-1.05),(1.89,-0.6),(1.95,-1.35),(1.80,-1.5),(1.86,-0.35),(1.92,-0.8),(1.98,-1.0),
(2.02,-0.85),(2.08,-1.2),(2.14,-0.45),(2.19,-1.5),(2.05,-1.65),(2.11,-0.95),(2.17,-0.65),(2.23,-1.15),
(2.27,-1.05),(2.33,-1.4),(2.39,-0.75),(2.45,-1.25),(2.30,-0.65),(2.36,-1.7),(2.42,-0.95),(2.48,-1.45),
(2.52,-1.35),(2.58,-1.6),(2.64,-0.95),(2.70,-1.15),(2.55,-1.1),(2.61,-1.45),(2.67,-0.6),(2.73,-1.7),
(2.77,-1.5),(2.83,-1.25),(2.89,-1.65),(2.94,-0.9),(2.80,-1.05),(2.86,-1.85),(2.92,-1.35),(2.98,-1.05),
]

all_points = scatter_points + scatter_points_core + scatter_points_fill + scatter_points_low
scatter_x = [p[0] for p in all_points]
scatter_y = [p[1] for p in all_points]

curve_x = [0.0, 0.25, 0.5, 0.75, 1.0, 1.25, 1.5, 1.75, 2.0, 2.25, 2.5, 2.75, 3.0,
           3.25, 3.5, 3.75, 4.0, 4.25, 4.5, 4.75, 5.0, 5.25, 5.5, 5.75, 6.0]
mode_true = [0.0, 0.25, 0.48, 0.68, 0.84, 0.95, 1.0, 0.98, 0.91, 0.78, 0.6, 0.38, 0.14,
             -0.11, -0.35, -0.57, -0.76, -0.9, -0.98, -1.0, -0.96, -0.86, -0.71, -0.51, -0.28]
mode_smooth = [-0.7, -0.32, 0.02, 0.3, 0.52, 0.66, 0.74, 0.76, 0.7, 0.55, 0.33, 0.06, -0.19,
               -0.42, -0.62, -0.8, -0.93, -1.02, -1.06, -1.07, -1.05, -0.99, -0.9, -0.77, -0.62]

est_x = [0.00, 0.12, 0.24, 0.37, 0.49, 0.61, 0.73, 0.86, 0.98, 1.10, 1.22, 1.35, 1.47, 1.59,
         1.71, 1.84, 1.96, 2.08, 2.20, 2.33, 2.45, 2.57, 2.69, 2.82, 2.94, 3.06, 3.18, 3.31,
         3.43, 3.55, 3.67, 3.80, 3.92, 4.04, 4.16, 4.29, 4.41, 4.53, 4.65, 4.78, 4.90, 5.02,
         5.14, 5.27, 5.39, 5.51, 5.63, 5.76, 5.88, 6.00]
est_y = [-1.15, 0.08, -0.34, -0.18, 0.02, -0.03, 0.23, 0.29, 0.85, 0.90, 1.05, 0.86, 0.65, 0.72,
         0.81, 0.66, 0.49, 0.49, 0.82, 0.72, 0.60, 0.32, 0.10, -0.13, -0.09, -0.40, -0.47, -0.43,
         -0.55, -0.68, -0.84, -0.80, -0.98, -1.09, -1.00, -0.69, -0.75, -0.80, -1.05, -1.41, -1.30, -1.49,
         -1.16, -1.19, -0.88, -0.59, -0.60, -0.61, -0.62, -0.92]

x_ticks = [0, 1, 2, 3, 4, 5, 6]
y_ticks = [-4, -2, 0, 2, 4]
y_tick_text = ["\u22124", "\u22122", "0", "2", "4"]
legend_labels = ["Moda teórica", "Estimación", "Estimación suavizada"]
legend_colors = ["#FF2020", "#22E022", "#2020FF"]

FONT = "Liberation Sans, Arial, Helvetica, sans-serif"

fig = go.Figure()
fig.add_trace(go.Scatter(x=scatter_x, y=scatter_y, mode="markers",
                         marker=dict(color="#BEBEBE", size=7, line=dict(width=0)),
                         hoverinfo="skip"))
fig.add_trace(go.Scatter(x=curve_x, y=mode_true, mode="lines",
                         line=dict(color="#FF0000", width=2, shape="spline")))
fig.add_trace(go.Scatter(x=est_x, y=est_y, mode="lines",
                         line=dict(color="#00C800", width=2)))
fig.add_trace(go.Scatter(x=curve_x, y=mode_smooth, mode="lines",
                         line=dict(color="#0000FF", width=2, shape="spline")))

# manual legend (no box), like R's legend(bty="n")
rows = [0.310, 0.213, 0.116]
for lab, col, yy in zip(legend_labels, legend_colors, rows):
    fig.add_shape(type="line", xref="paper", yref="paper", x0=0.0445, x1=0.1373,
                  y0=yy, y1=yy, line=dict(color=col, width=1.5))
    fig.add_annotation(xref="paper", yref="paper", x=0.1838, y=yy, text=lab,
                       showarrow=False, xanchor="left", yanchor="middle",
                       font=dict(family=FONT, size=14, color="black"))

# top frame line (right side is cropped off in the reference)
fig.add_shape(type="line", xref="paper", yref="paper", x0=0, x1=1, y0=1, y1=1,
              line=dict(color="black", width=1))

fig.add_annotation(xref="paper", yref="paper", x=0.5087, y=0, yshift=-68,
                   text="X", showarrow=False, xanchor="center", yanchor="middle",
                   font=dict(family=FONT, size=14, color="black"))
fig.add_annotation(xref="paper", yref="paper", x=0, xshift=-60, y=0.501,
                   text="Y", showarrow=False, textangle=-90, xanchor="center", yanchor="middle",
                   font=dict(family=FONT, size=14, color="black"))

fig.update_layout(
    width=593, height=429,
    margin=dict(l=76, r=0, t=9, b=75),
    plot_bgcolor="white", paper_bgcolor="white",
    showlegend=False,
    font=dict(family=FONT, size=14, color="black"),
    xaxis=dict(range=[-0.2396, 6.113], tickmode="array", tickvals=x_ticks,
               ticks="outside", ticklen=7, tickcolor="black", tickwidth=1,
               showline=True, linecolor="black", linewidth=1,
               showgrid=False, zeroline=False, ticklabelstandoff=12,
               tickfont=dict(family=FONT, size=14, color="black")),
    yaxis=dict(range=[-4.838, 4.486], tickmode="array", tickvals=y_ticks, ticktext=y_tick_text,
               tickangle=-90, ticks="outside", ticklen=7, tickcolor="black", tickwidth=1,
               showline=True, linecolor="black", linewidth=1,
               showgrid=False, zeroline=False, ticklabelstandoff=4,
               tickfont=dict(family=FONT, size=14, color="black")),
)

fig.write_html("out.html")
